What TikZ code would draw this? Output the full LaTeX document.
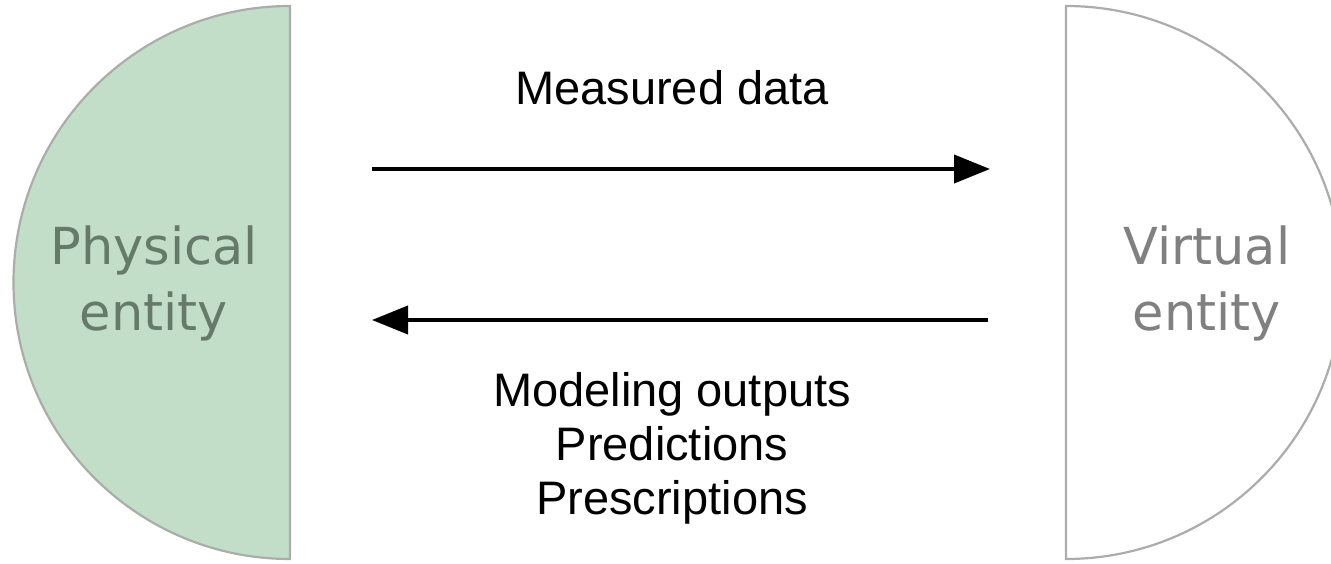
\documentclass[tikz,border=0pt]{standalone}
\usepackage{fontspec}
\setmainfont{Liberation Sans}
\newfontfamily\dejavu{DejaVu Sans}
\usetikzlibrary{arrows.meta}
\definecolor{physfill}{HTML}{C2DEC8}
\definecolor{phystext}{HTML}{667A6A}
\definecolor{rim}{HTML}{ABADAB}
\definecolor{virttext}{HTML}{808080}
\tikzset{
  entity/.style={align=center, font=\dejavu\fontsize{51}{66}\selectfont, inner sep=0pt},
  flow/.style={line width=4pt, -{Triangle[length=36pt,width=28pt]}},
  caption/.style={align=center, font=\fontsize{47}{54}\selectfont, inner sep=0pt},
  halfdisc/.style={draw=rim, line width=2.2pt},
}
\begin{document}
\begin{tikzpicture}[x=1pt,y=-1pt]
\useasboundingbox (0,0) rectangle (1331,564);
% physical side: left half-disc (y axis points down, so angles run clockwise)
\filldraw[halfdisc, fill=physfill] (290,6) arc[start angle=270, end angle=90, radius=276.5] -- cycle;
% virtual side: right half-disc, cut by the page edge
\draw[halfdisc, fill=white] (1066,6) arc[start angle=270, end angle=450, radius=276.5] -- cycle;
\node[entity, text=phystext] (phys) at (154,283) {Physical\\entity};
\node[entity, text=virttext] (virt) at (1207,283) {Virtual\\entity};
% arrow end points
\coordinate (mA) at (372,169);
\coordinate (mB) at (990,169);
\coordinate (oA) at (988,320);
\coordinate (oB) at (372,320);
\draw[flow] (mA) -- (mB);
\draw[flow] (oA) -- (oB);
\node[caption] (meas) at (672,88) {Measured data};
\node[caption] (outs) at (672,448) {Modeling outputs\\Predictions\\Prescriptions};
\end{tikzpicture}
\end{document}
